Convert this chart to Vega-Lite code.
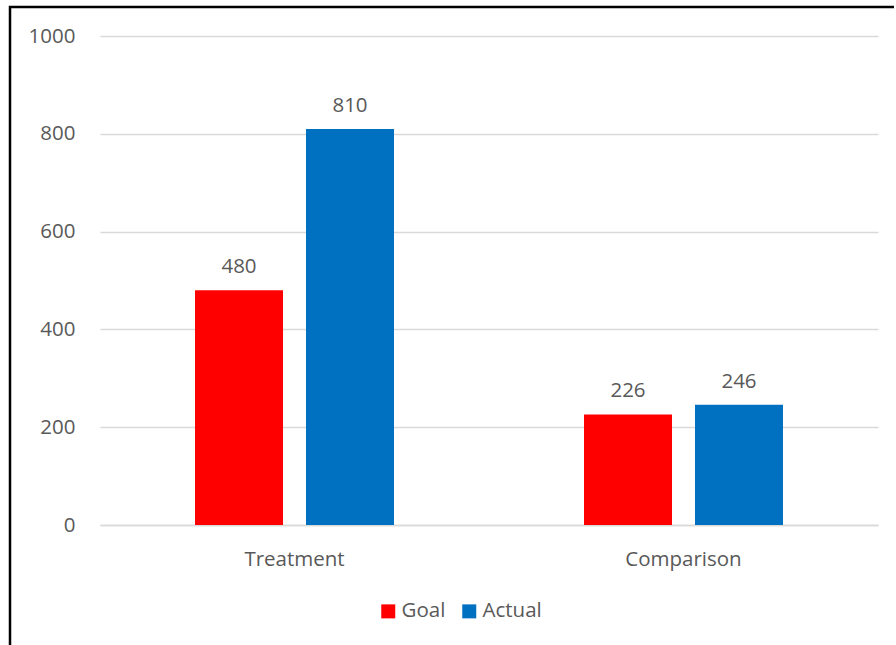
{
  "$schema": "https://vega.github.io/schema/vega-lite/v6.json",
  "width": 884,
  "height": 638,
  "autosize": {"type": "none"},
  "padding": {"left": 10, "top": 7, "right": 2, "bottom": 0},
  "background": "white",
  "config": {
    "view": {"stroke": "#000000", "strokeWidth": 2.5, "strokeDash": [884, 1522, 638]},
    "font": "Open Sans",
    "axis": {"labelColor": "#595959", "labelFont": "Open Sans"},
    "legend": {"labelColor": "#595959", "labelFont": "Open Sans"}
  },
  "data": {
    "values": [
      {"group": "Treatment", "series": "Goal", "count": 480},
      {"group": "Treatment", "series": "Actual", "count": 810},
      {"group": "Comparison", "series": "Goal", "count": 226},
      {"group": "Comparison", "series": "Actual", "count": 246}
    ]
  },
  "encoding": {
    "x": {
      "field": "group",
      "type": "nominal",
      "sort": ["Treatment", "Comparison"],
      "scale": {"range": [90, 868], "paddingInner": 0, "paddingOuter": 0},
      "axis": {
        "title": null,
        "orient": "bottom",
        "offset": -120,
        "labelAngle": 0,
        "ticks": false,
        "tickSize": 0,
        "labelPadding": 24,
        "labelFontSize": 20.5,
        "domainColor": "#D9D9D9",
        "domainWidth": 1.5,
        "grid": false
      }
    },
    "xOffset": {
      "field": "series",
      "type": "nominal",
      "sort": ["Goal", "Actual"],
      "scale": {"paddingInner": 0.207, "paddingOuter": 0.856}
    },
    "y": {
      "field": "count",
      "type": "quantitative",
      "scale": {"domain": [0, 1000], "range": [518, 29], "nice": false},
      "axis": {
        "title": null,
        "offset": -90,
        "values": [0, 200, 400, 600, 800, 1000],
        "format": "d",
        "domain": false,
        "ticks": false,
        "tickSize": 0,
        "labelPadding": 25,
        "labelFontSize": 20.5,
        "grid": true,
        "gridColor": "#D9D9D9",
        "gridWidth": 1.5
      }
    }
  },
  "layer": [
    {
      "mark": {"type": "bar"},
      "encoding": {
        "color": {
          "field": "series",
          "type": "nominal",
          "sort": ["Goal", "Actual"],
          "scale": {"domain": ["Goal", "Actual"], "range": ["#FF0000", "#0070C0"]},
          "legend": {
            "title": null,
            "orient": "none",
            "direction": "horizontal",
            "legendX": 368,
            "legendY": 594,
            "symbolType": "square",
            "symbolSize": 196,
            "symbolStrokeWidth": 0,
            "symbolOpacity": 1,
            "labelFontSize": 20.5,
            "labelOffset": 3,
            "columnPadding": 13
          }
        }
      }
    },
    {
      "mark": {
        "type": "text",
        "baseline": "alphabetic",
        "dy": -17,
        "fontSize": 20.5,
        "color": "#595959"
      },
      "encoding": {
        "text": {"field": "count", "type": "quantitative"}
      }
    }
  ]
}
